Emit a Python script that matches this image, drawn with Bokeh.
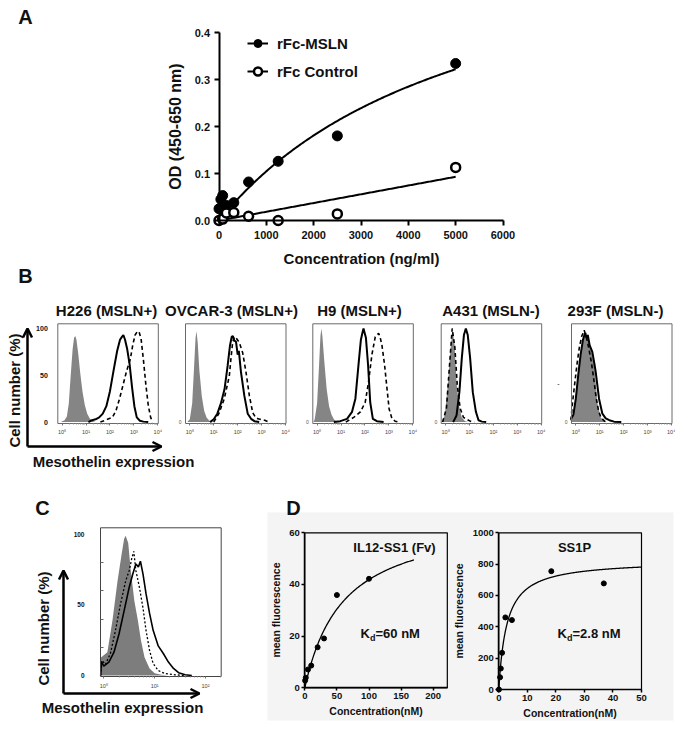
import numpy as np
from bokeh.plotting import figure
from bokeh.models import (Range1d, LinearAxis, FixedTicker, Label, Arrow, OpenHead,
                          Legend, LegendItem, BoxAnnotation, PrintfTickFormatter)
from bokeh.embed import file_html
from bokeh.resources import INLINE

FONT = "Liberation Sans"
INK = "#111111"
GRAY = "#858585"

# ---------------- Panel A data ----------------
conc_ngml = [0, 39, 78, 156, 312.5, 625, 1250, 2500, 5000]
od_msln = [0.025, 0.045, 0.053, 0.032, 0.038, 0.082, 0.126, 0.180, 0.334]
conc_ctrl = [0, 78, 156, 312.5, 625, 1250, 2500, 5000]
od_ctrl = [0.0, 0.003, 0.016, 0.017, 0.009, 0.0, 0.014, 0.113]
fit_msln_bmax, fit_msln_kd = 0.669, 5395.0
fit_ctrl_slope = 0.0000186
a_xticks = [0, 1000, 2000, 3000, 4000, 5000, 6000]
a_yticks = [0.0, 0.1, 0.2, 0.3, 0.4]

# ---------------- Panel B data (x = log10 fluorescence, y = % of max) ----------------
b_titles = ["H226 (MSLN+)", "OVCAR-3 (MSLN+)", "H9 (MSLN+)", "A431 (MSLN-)", "293F (MSLN-)"]

h226_iso_log = [-0.05, 0.1, 0.2, 0.28, 0.36, 0.44, 0.5, 0.55, 0.6, 0.68, 0.76, 0.85, 0.95, 1.05, 1.15, 1.25, 1.4]
h226_iso_pct = [0, 2, 6, 20, 50, 78, 90, 92, 88, 72, 52, 33, 18, 9, 4, 1.5, 0]
h226_sol_log = [1.1, 1.25, 1.4, 1.55, 1.7, 1.85, 2.0, 2.15, 2.3, 2.42, 2.5, 2.56, 2.63, 2.72, 2.82, 2.92, 3.02, 3.12, 3.25, 3.4, 3.6]
h226_sol_pct = [0, 2, 3, 5, 9, 17, 33, 55, 76, 88, 91, 93, 88, 78, 62, 38, 17, 5, 1.5, 0.5, 0]
h226_das_log = [1.6, 1.8, 2.0, 2.1, 2.25, 2.4, 2.55, 2.7, 2.85, 2.95, 3.05, 3.15, 3.22, 3.3, 3.4, 3.5, 3.6, 3.7, 3.78]
h226_das_pct = [0, 2, 4, 5, 12, 25, 40, 55, 67, 82, 93, 97, 96, 89, 66, 40, 18, 5, 0]

ovc_iso_log = [-0.1, 0.0, 0.1, 0.18, 0.24, 0.28, 0.33, 0.4, 0.5, 0.6, 0.7, 0.8, 0.9]
ovc_iso_pct = [0, 3, 20, 60, 90, 97, 85, 55, 28, 12, 5, 2, 0]
ovc_sol_log = [0.85, 1.0, 1.15, 1.3, 1.45, 1.58, 1.68, 1.75, 1.8, 1.86, 1.93, 2.0, 2.05, 2.14, 2.28, 2.42, 2.56, 2.7, 2.9]
ovc_sol_pct = [0, 3, 9, 20, 35, 60, 82, 91, 92, 87, 86, 72, 76, 53, 28, 9, 3.5, 1, 0]
ovc_das_log = [1.0, 1.12, 1.23, 1.44, 1.65, 1.72, 1.79, 1.86, 1.93, 2.07, 2.21, 2.35, 2.49, 2.63, 2.75, 2.85, 3.0, 3.13, 3.3]
ovc_das_pct = [0, 5, 10, 25, 49, 68, 85, 91, 90, 85, 74, 53, 28, 10, 5, 3.5, 2.5, 2, 0]

h9_iso_log = [-0.15, -0.1, 0.0, 0.08, 0.14, 0.18, 0.22, 0.3, 0.4, 0.5, 0.6, 0.7, 0.8, 0.9]
h9_iso_pct = [0, 3, 20, 60, 92, 100, 92, 65, 35, 17, 8, 3, 1, 0]
h9_sol_log = [0.7, 0.97, 1.25, 1.46, 1.6, 1.74, 1.83, 1.9, 1.94, 1.99, 2.04, 2.13, 2.22, 2.33, 2.5, 2.78]
h9_sol_pct = [0, 1, 3.5, 11, 25, 64, 88, 96, 100, 95, 90, 61, 21, 3.5, 1, 0]
h9_das_log = [1.2, 1.53, 1.81, 2.01, 2.15, 2.29, 2.43, 2.5, 2.57, 2.64, 2.71, 2.82, 2.92, 3.01, 3.13, 3.26, 3.4]
h9_das_pct = [0, 5, 11, 21, 43, 72, 91, 93, 95, 90, 82, 61, 36, 14, 3.5, 1, 0]

a431_iso_log = [-0.17, -0.03, 0.11, 0.21, 0.3, 0.38, 0.46, 0.56, 0.68, 0.82, 0.96]
a431_iso_pct = [0, 7, 43, 79, 98, 82, 43, 18, 5, 1, 0]
a431_sol_log = [0.32, 0.46, 0.58, 0.68, 0.77, 0.85, 0.93, 1.03, 1.14, 1.27, 1.38, 1.52, 1.7]
a431_sol_pct = [0, 7, 32, 68, 93, 100, 93, 68, 32, 11, 2, 0.5, 0]
a431_das_log = [-0.12, 0.04, 0.18, 0.28, 0.39, 0.49, 0.61, 0.75, 0.89, 1.03, 1.2]
a431_das_pct = [0, 15, 65, 100, 80, 40, 15, 5, 3, 1, 0]

f293_iso_log = [-0.2, -0.19, -0.15, -0.1, 0.0, 0.06, 0.2, 0.34, 0.45, 0.55, 0.65, 0.77, 0.9, 1.04, 1.15, 1.3]
f293_iso_pct = [0, 7, 3, 8, 28, 43, 72, 90, 96, 88, 76, 61, 21, 5, 2, 0]
f293_sol_log = [-0.2, -0.1, 0.0, 0.1, 0.2, 0.3, 0.38, 0.45, 0.5, 0.58, 0.69, 0.78, 0.83, 0.97, 1.11, 1.25, 1.4, 1.6, 1.9]
f293_sol_pct = [3, 8, 25, 50, 72, 88, 95, 90, 93, 82, 75, 62, 54, 25, 9, 4, 2, 0.5, 0]
f293_das_log = [-0.2, -0.15, -0.05, 0.05, 0.15, 0.25, 0.35, 0.45, 0.55, 0.65, 0.75, 0.85, 0.95, 1.05, 1.2, 1.35]
f293_das_pct = [2, 18, 40, 62, 80, 92, 98, 90, 78, 64, 46, 26, 12, 5, 1, 0]

b_iso_log = [h226_iso_log, ovc_iso_log, h9_iso_log, a431_iso_log, f293_iso_log]
b_iso_pct = [h226_iso_pct, ovc_iso_pct, h9_iso_pct, a431_iso_pct, f293_iso_pct]
b_sol_log = [h226_sol_log, ovc_sol_log, h9_sol_log, a431_sol_log, f293_sol_log]
b_sol_pct = [h226_sol_pct, ovc_sol_pct, h9_sol_pct, a431_sol_pct, f293_sol_pct]
b_das_log = [h226_das_log, ovc_das_log, h9_das_log, a431_das_log, f293_das_log]
b_das_pct = [h226_das_pct, ovc_das_pct, h9_das_pct, a431_das_pct, f293_das_pct]

log_ticks = [0, 1, 2, 3, 4]
log_tick_labels = ["10\u2070", "10\u00b9", "10\u00b2", "10\u00b3", "10\u2074"]

# ---------------- Panel C data ----------------
c_iso_log = [-0.065, -0.05, 0.07, 0.17, 0.27, 0.35, 0.4, 0.43, 0.48, 0.53, 0.6, 0.67, 0.73, 0.8, 0.9, 1.0, 1.13, 1.25]
c_iso_pct = [13, 13, 16.5, 39, 67, 86, 97, 99, 94, 74.5, 53, 39, 25, 13, 5, 1.6, 0.5, 0]
c_dot_log = [-0.065, -0.03, 0.03, 0.13, 0.23, 0.33, 0.43, 0.5, 0.55, 0.59, 0.63, 0.7, 0.77, 0.83, 0.9, 0.97, 1.07, 1.2, 1.4, 1.6]
c_dot_pct = [0, 10.6, 7.8, 15.6, 32, 51, 67, 74.5, 83, 88, 74.5, 62.5, 48, 32, 17.7, 8.5, 3.5, 1.4, 0.5, 0]
c_sol_log = [-0.06, -0.05, 0.0, 0.1, 0.2, 0.3, 0.4, 0.5, 0.57, 0.63, 0.68, 0.72, 0.77, 0.83, 0.9, 0.97, 1.07, 1.17, 1.27, 1.37, 1.47, 1.6, 1.73]
c_sol_pct = [0, 10, 6.6, 9.5, 16.5, 29.6, 46, 62.6, 72, 79, 77, 81, 72, 58, 44, 32, 21, 15.6, 9.5, 5, 2, 0.5, 0]

# ---------------- Panel D data ----------------
d1_conc_nM = [0.5, 1.5, 5, 10, 20, 30, 50, 100]
d1_mfi = [2.8, 3.9, 7.1, 8.6, 15.7, 19.1, 35.9, 42.2]
d1_bmax, d1_kd = 67.0, 60.0
d2_conc_nM = [0.05, 0.45, 0.7, 1.15, 2.3, 4.6, 18.4, 36.8]
d2_mfi = [0, 78, 134, 234, 460, 443, 755, 677]
d2_bmax, d2_kd = 825.0, 2.8

# ---------------- canvas ----------------
X0, Y0, W, H = 0, 0, 675, 729
p = figure(width=W, height=H, output_backend="svg", toolbar_location=None,
           x_range=Range1d(X0, X0 + W), y_range=Range1d(Y0 + H, Y0),
           x_axis_type=None, y_axis_type=None, min_border=0)
p.outline_line_color = None
p.background_fill_color = "white"


def panel(name, xlo, xhi, px_lo, px_hi, ylo, yhi, py_lo, py_hi):
    sx = (xhi - xlo) / (px_hi - px_lo)
    p.extra_x_ranges[name] = Range1d(xlo + (X0 - px_lo) * sx, xlo + (X0 + W - px_lo) * sx)
    sy = (yhi - ylo) / (py_hi - py_lo)
    p.extra_y_ranges[name] = Range1d(ylo + (Y0 + H - py_lo) * sy, ylo + (Y0 - py_lo) * sy)


def axis(side, name, loc, bounds, ticks, labels=None, minor=None, **style):
    ax = LinearAxis(x_range_name=name, y_range_name=name, fixed_location=loc, bounds=bounds,
                    ticker=FixedTicker(ticks=ticks, minor_ticks=minor or []))
    if labels is not None:
        ax.major_label_overrides = {t: l for t, l in zip(ticks, labels)}
    ax.major_label_text_font = FONT
    ax.axis_label_text_font = FONT
    ax.major_label_text_color = INK
    ax.axis_label_text_color = INK
    ax.axis_label_text_font_style = "bold"
    for k, v in style.items():
        setattr(ax, k, v)
    p.add_layout(ax, side)
    return ax


def label(x, y, text, size, angle=0.0, align="center", bold=True, baseline="middle"):
    p.add_layout(Label(x=x, y=y, text=text, text_font=FONT, text_font_size=size,
                       text_font_style="bold" if bold else "normal", text_color=INK,
                       text_align=align, text_baseline=baseline, angle=angle))


# ---------------- Panel A ----------------
panel("a", 0, 6000, 218.5, 502.5, 0, 0.4, 220, 32)
a_style = dict(axis_line_width=2, major_tick_line_width=2, major_tick_out=5, major_tick_in=0,
               minor_tick_out=0, minor_tick_in=0, major_label_text_font_size="11px",
               major_label_text_font_style="bold", axis_label_text_font_size="15px")
axis("below", "a", 0, (0, 6000), a_xticks, major_label_standoff=5,
     axis_label="Concentration (ng/ml)", axis_label_standoff=8, **a_style)
axis("left", "a", 0, (0, 0.4), a_yticks, formatter=PrintfTickFormatter(format="%.1f"),
     major_label_standoff=4, axis_label="OD (450-650 nm)", axis_label_standoff=8,
     **{**a_style, "axis_label_text_font_size": "16px"})

xs_fit = np.linspace(0, 5000, 200)
fit_m = p.line(xs_fit, fit_msln_bmax * xs_fit / (fit_msln_kd + xs_fit), line_color="black",
               line_width=2, x_range_name="a", y_range_name="a")
fit_c = p.line(xs_fit, fit_ctrl_slope * xs_fit, line_color="black", line_width=2,
               x_range_name="a", y_range_name="a")
sc_m = p.scatter(conc_ngml, od_msln, size=10, marker="circle", fill_color="black",
                 line_color="black", x_range_name="a", y_range_name="a")
sc_c = p.scatter(conc_ctrl, od_ctrl, size=9, marker="circle", fill_color="white",
                 line_color="black", line_width=2.5, x_range_name="a", y_range_name="a")
leg = Legend(items=[LegendItem(label="rFc-MSLN", renderers=[fit_m, sc_m]),
                    LegendItem(label="rFc Control", renderers=[fit_c, sc_c])],
             location=(247 - X0, H - (81 - Y0)), padding=0, margin=0, spacing=8,
             glyph_width=21, glyph_height=20, label_height=20, label_standoff=9,
             label_text_font=FONT, label_text_font_size="15px", label_text_font_style="bold",
             label_text_color=INK, border_line_color=None, background_fill_alpha=0)
p.add_layout(leg)
label(25, 16, "A", "20px")

# ---------------- Panel B ----------------
b_left = [57.3, 185, 312.3, 440.7, 571]
b_title_cx = [106, 231, 359, 490.5, 615]
B_XLO, B_XHI, B_YLO, B_YHI = -0.18, 4.02, -1.5, 105
minor_log = [d + np.log10(k) for d in range(4) for k in range(2, 10)]
for i in range(5):
    nm = f"b{i}"
    panel(nm, B_XLO, B_XHI, b_left[i], b_left[i] + 100.5, B_YLO, B_YHI, 423, 323.3)
    p.varea(x=b_iso_log[i], y1=0, y2=b_iso_pct[i], fill_color=GRAY,
            x_range_name=nm, y_range_name=nm)
    p.line(b_das_log[i], b_das_pct[i], line_color="black", line_width=1.6, line_dash="4 3",
           x_range_name=nm, y_range_name=nm)
    p.line(b_sol_log[i], b_sol_pct[i], line_color="black", line_width=2,
           x_range_name=nm, y_range_name=nm)
    p.quad(left=B_XLO, right=B_XHI, bottom=B_YLO, top=B_YHI, fill_color=None,
           line_color="#6a6a6a", line_width=1, x_range_name=nm, y_range_name=nm)
    axis("below", nm, B_YLO, (B_XLO, B_XHI), log_ticks, log_tick_labels, minor=minor_log,
         axis_line_color=None, major_tick_out=2, major_tick_in=0, minor_tick_out=1,
         minor_tick_in=0, major_tick_line_color="#777", minor_tick_line_color="#999",
         major_label_text_font_size="5.5px", major_label_standoff=3,
         major_label_text_color="#444")
    if i == 0:
        axis("left", nm, B_XLO, (B_YLO, B_YHI), [0, 50, 100], ["0", "50", "100"],
             axis_line_color=None, major_tick_out=0, major_tick_in=0,
             major_label_text_font_size="7px", major_label_text_font_style="bold",
             major_label_standoff=10)
    else:
        axis("left", nm, B_XLO, (B_YLO, B_YHI), [0], ["0"],
             axis_line_color=None, major_tick_out=0, major_tick_in=0,
             major_label_text_font_size="5px", major_label_standoff=4,
             major_label_text_color="#555")
    label(b_title_cx[i], 310, b_titles[i], "15px")

label(558, 383, "-", "7px", bold=False)
label(25, 275, "B", "20px")
label(13.5, 390, "Cell number (%)", "15px", angle=np.pi / 2)
label(113, 461, "Mesothelin expression", "15px")
for (xs_, ys_, xe_, ye_) in [(27, 446, 27, 328), (27, 446, 161, 446)]:
    p.add_layout(Arrow(x_start=xs_, y_start=ys_, x_end=xe_, y_end=ye_, line_width=2.5,
                       line_color="black",
                       end=OpenHead(size=9, line_width=2.5, line_color="black")))

# ---------------- Panel C ----------------
C_XLO, C_XHI, C_YLO, C_YHI = -0.065, 2.308, -0.7, 104.7
panel("c", C_XLO, C_XHI, 100, 220.7, C_YLO, C_YHI, 676, 527.3)
p.varea(x=c_iso_log, y1=0, y2=c_iso_pct, fill_color="#7d7d7d", x_range_name="c", y_range_name="c")
p.line(c_dot_log, c_dot_pct, line_color="black", line_width=1.3, line_dash="2 2",
       x_range_name="c", y_range_name="c")
p.line(c_sol_log, c_sol_pct, line_color="black", line_width=1.6,
       x_range_name="c", y_range_name="c")
p.quad(left=C_XLO, right=C_XHI, bottom=C_YLO, top=C_YHI, fill_color=None,
       line_color="#444", line_width=1, x_range_name="c", y_range_name="c")
minor_log_c = [d + np.log10(k) for d in range(3) for k in range(2, 10) if d + np.log10(k) < C_XHI]
axis("below", "c", C_YLO, (C_XLO, C_XHI), [0, 1, 2], log_tick_labels[:3], minor=minor_log_c,
     axis_line_color=None, major_tick_out=2, major_tick_in=0, minor_tick_out=1, minor_tick_in=0,
     major_tick_line_color="#777", minor_tick_line_color="#999",
     major_label_text_font_size="5.5px", major_label_standoff=4, major_label_text_color="#444")
axis("left", "c", C_XLO, (C_YLO, C_YHI), [0, 50, 100], ["0", "50", "100"], minor=[20, 40, 60, 80],
     axis_line_color=None, major_tick_out=0, major_tick_in=0, minor_tick_in=3, minor_tick_out=0,
     minor_tick_line_color="#666", major_label_text_font_size="6.5px",
     major_label_text_font_style="bold", major_label_standoff=16)
label(42, 507, "C", "20px")
label(43, 628, "Cell number (%)", "15px", angle=np.pi / 2)
label(122, 707, "Mesothelin expression", "15px")
for (xs_, ys_, xe_, ye_) in [(63, 693, 63, 570), (63, 693, 199, 693)]:
    p.add_layout(Arrow(x_start=xs_, y_start=ys_, x_end=xe_, y_end=ye_, line_width=2.5,
                       line_color="black",
                       end=OpenHead(size=9, line_width=2.5, line_color="black")))

# ---------------- Panel D ----------------
p.add_layout(BoxAnnotation(left=267, right=673, top=512, bottom=720, fill_color="#f4f4f4",
                           fill_alpha=1, line_color=None, level="underlay"))
label(293, 507, "D", "20px")
d_style = dict(axis_line_width=1.5, major_tick_line_width=1.5, major_tick_out=3, major_tick_in=0,
               minor_tick_out=0, minor_tick_in=0, major_label_text_font_size="9.5px",
               major_label_text_font_style="bold", major_label_standoff=2,
               axis_label_text_font_size="10.5px")

D1_XMAX, D1_YMAX = 222, 60
panel("d1", 0, 200, 304.3, 432.7, 0, 60, 687.3, 532.3)
p.quad(left=0, right=D1_XMAX, bottom=0, top=D1_YMAX, fill_color=None, line_color="black",
       line_width=1.2, x_range_name="d1", y_range_name="d1")
axis("below", "d1", 0, (0, D1_XMAX), [0, 50, 100, 150, 200], axis_label="Concentration(nM)",
     axis_label_standoff=3, **d_style)
axis("left", "d1", 0, (0, D1_YMAX), [0, 20, 40, 60], axis_label="mean fluorescence",
     axis_label_standoff=4, **d_style)
xd1 = np.linspace(0, 170, 150)
p.line(xd1, d1_bmax * xd1 / (d1_kd + xd1), line_color="black", line_width=1.3,
       x_range_name="d1", y_range_name="d1")
p.scatter(d1_conc_nM, d1_mfi, size=5, fill_color="black", line_color="black",
          x_range_name="d1", y_range_name="d1")
label(394, 547, "IL12-SS1 (Fv)", "13px")
label(360, 633, "K", "13px", align="left")
label(369.5, 637.5, "d", "9px", align="left")
label(375, 633, "=60 nM", "13px", align="left")

D2_XMAX, D2_YMAX = 50, 1000
panel("d2", 0, 50, 498.3, 641, 0, 1000, 689, 532.3)
p.quad(left=0, right=D2_XMAX, bottom=0, top=D2_YMAX, fill_color=None, line_color="black",
       line_width=1.2, x_range_name="d2", y_range_name="d2")
axis("below", "d2", 0, (0, D2_XMAX), [0, 10, 20, 30, 40, 50], axis_label="Concentration(nM)",
     axis_label_standoff=3, **d_style)
axis("left", "d2", 0, (0, D2_YMAX), [0, 200, 400, 600, 800, 1000], axis_label="mean fluorescence",
     axis_label_standoff=4, **d_style)
xd2 = np.linspace(0, 50, 300)
p.line(xd2, d2_bmax * xd2 / (d2_kd + xd2), line_color="black", line_width=1.3,
       x_range_name="d2", y_range_name="d2")
p.scatter(d2_conc_nM, d2_mfi, size=5, fill_color="black", line_color="black",
          x_range_name="d2", y_range_name="d2")
label(574, 547, "SS1P", "13px")
label(557, 633, "K", "13px", align="left")
label(566.5, 637.5, "d", "9px", align="left")
label(572, 633, "=2.8 nM", "13px", align="left")

open("out.html", "w").write(file_html(p, INLINE))
